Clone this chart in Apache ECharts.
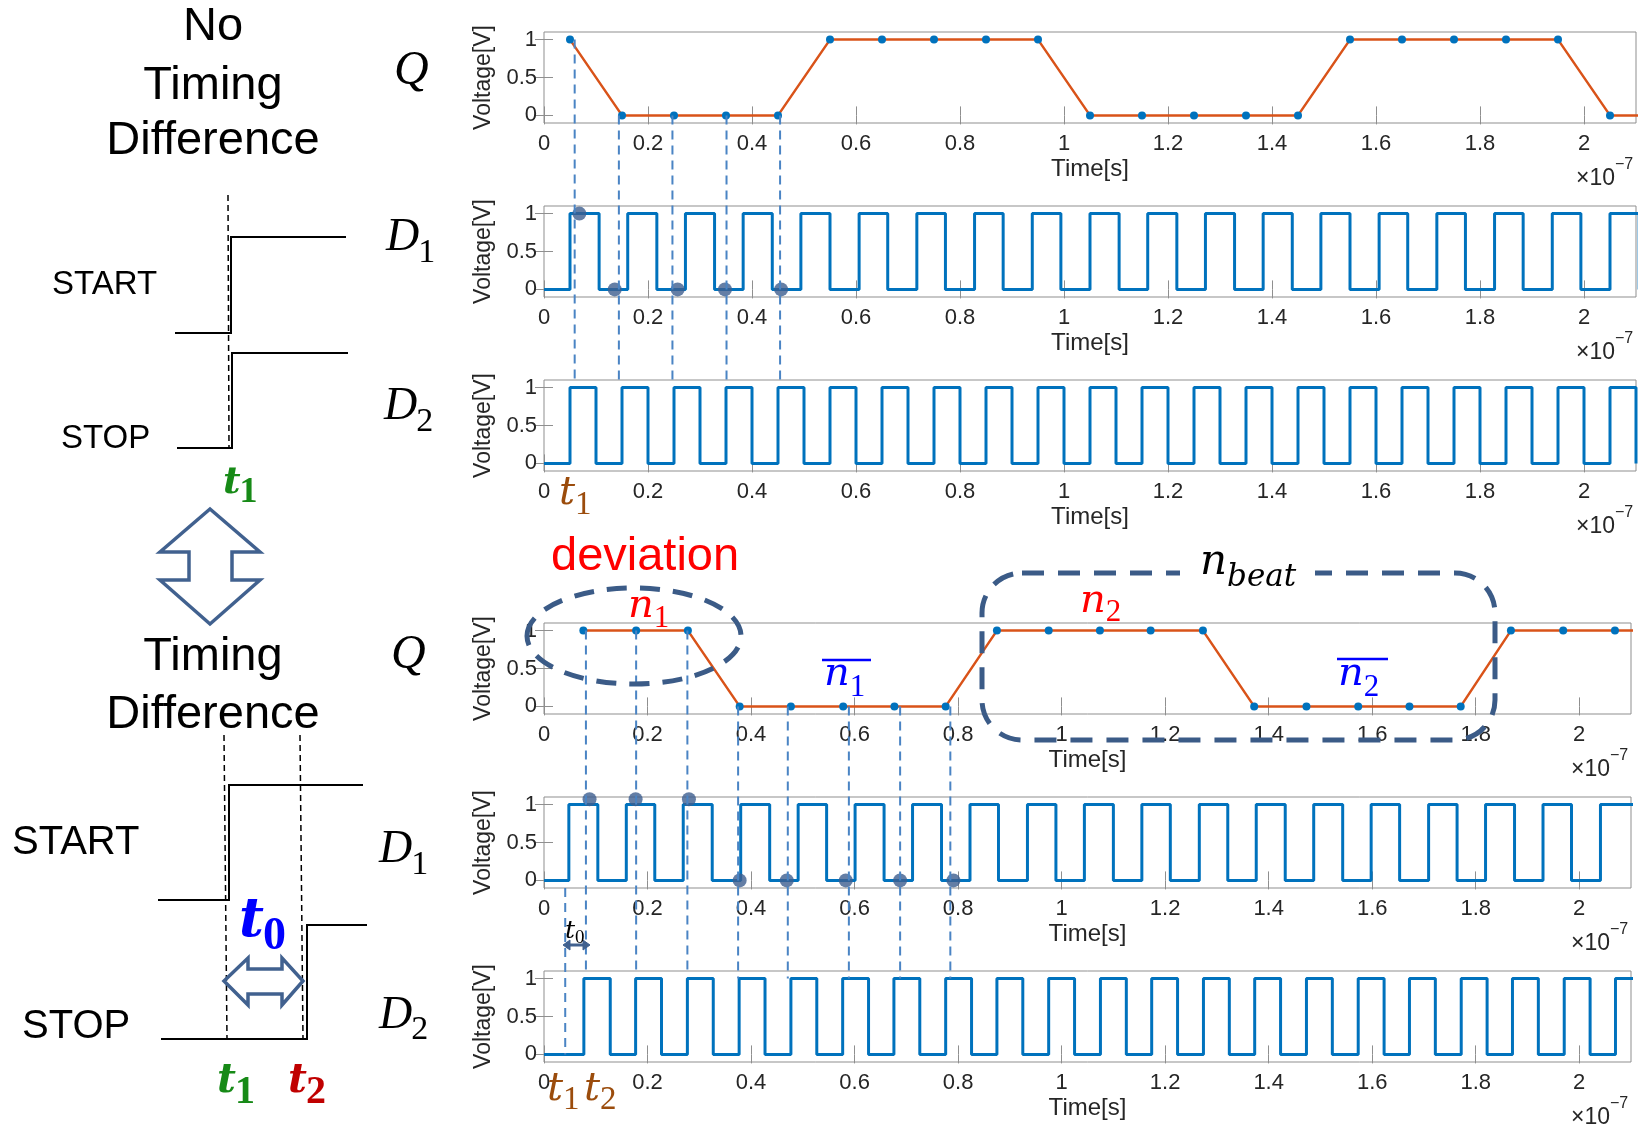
<!DOCTYPE html>
<html><head><meta charset="utf-8">
<script src="https://cdn.jsdelivr.net/npm/echarts@6/dist/echarts.min.js"></script>
<style>html,body{margin:0;padding:0;background:#fff}#c{width:1641px;height:1125px}</style>
</head><body><div id="c"></div>
<script>
// Time values are in units of 1e-7 s (axis shows x10^-7)
const xTickValues = [0, 0.2, 0.4, 0.6, 0.8, 1, 1.2, 1.4, 1.6, 1.8, 2];
const yTickValues = [0, 0.5, 1];

// ---- No timing difference ----
const qTopTime  = [0.05,0.15,0.25,0.35,0.45,0.55,0.65,0.75,0.85,0.95,1.05,1.15,1.25,1.35,1.45,1.55,1.65,1.75,1.85,1.95,2.05,2.15];
const qTopValue = [1,0,0,0,0,1,1,1,1,1,0,0,0,0,0,1,1,1,1,1,0,0];
const d1TopRise = [0.050,0.161,0.272,0.383,0.494,0.606,0.717,0.828,0.939,1.050,1.161,1.272,1.383,1.494,1.606,1.717,1.828,1.939,2.050];
const d1TopFall = [0.106,0.217,0.328,0.439,0.550,0.661,0.772,0.883,0.994,1.106,1.217,1.328,1.439,1.550,1.661,1.772,1.883,1.994,2.106];
const d2TopRise = [0.05,0.15,0.25,0.35,0.45,0.55,0.65,0.75,0.85,0.95,1.05,1.15,1.25,1.35,1.45,1.55,1.65,1.75,1.85,1.95,2.05];
const d2TopFall = [0.10,0.20,0.30,0.40,0.50,0.60,0.70,0.80,0.90,1.00,1.10,1.20,1.30,1.40,1.50,1.60,1.70,1.80,1.90,2.00,2.10];
const d1TopDotTime  = [0.068,0.136,0.257,0.348,0.456];
const d1TopDotValue = [1,0,0,0,0];
const topGuideX    = [0.059,0.144,0.247,0.351,0.454];
const topGuideFrom = [1,0,0,0,0];

// ---- Timing difference ----
const qBotTime  = [0.076,0.178,0.278,0.378,0.477,0.578,0.677,0.776,0.875,0.975,1.074,1.172,1.273,1.372,1.473,1.573,1.672,1.771,1.868,1.969,2.069,2.169];
const qBotValue = [1,1,1,0,0,0,0,0,1,1,1,1,1,0,0,0,0,0,1,1,1,1];
const d1BotRise = [0.048,0.159,0.269,0.380,0.491,0.601,0.712,0.823,0.934,1.044,1.155,1.266,1.376,1.487,1.598,1.709,1.819,1.930,2.041];
const d1BotFall = [0.104,0.214,0.325,0.436,0.546,0.657,0.768,0.878,0.989,1.100,1.210,1.321,1.432,1.543,1.653,1.764,1.875,1.985,2.110];
const d2BotRise = [0.077,0.177,0.277,0.377,0.477,0.577,0.676,0.776,0.875,0.975,1.075,1.174,1.274,1.373,1.473,1.573,1.672,1.772,1.871,1.971,2.070];
const d2BotFall = [0.128,0.227,0.327,0.427,0.527,0.627,0.726,0.826,0.925,1.025,1.125,1.224,1.324,1.423,1.523,1.623,1.722,1.822,1.921,2.021,2.120];
const d1BotDotTime  = [0.088,0.177,0.280,0.378,0.469,0.583,0.688,0.791];
const d1BotDotValue = [1.07,1.07,1.07,0,0,0,0,0];
const botGuideX    = [0.081,0.178,0.277,0.375,0.471,0.589,0.688,0.785];
const botGuideFrom = [1,1,1,0,0,0,0,0];
const botGuideTo   = [1.1,1.1,1.1,1,1,1,1,1];
const t1GuideX = 0.041;

// ---------- layout ----------
const gridTops   = [32, 206, 380, 623, 797, 971];
const gridWidths = [1092, 1092, 1092, 1087, 1087, 1087];
const GL = 544, GH = 91;
const FS = '"Liberation Sans", Arial, sans-serif';
const SERIF = '"Liberation Serif", "Times New Roman", serif';
const DSERIF = '"DejaVu Serif", "Liberation Serif", serif';
const TXT = '#262626';

function square(rise, fall) {
  const pts = [[0, 0]];
  for (let i = 0; i < rise.length; i++) {
    pts.push([rise[i], 0], [rise[i], 1]);
    if (fall[i] !== undefined) pts.push([fall[i], 1], [fall[i], 0]);
  }
  return pts;
}
const zip = (a, b) => a.map((v, i) => [v, b[i]]);

const grids = [], xAxes = [], yAxes = [];
gridTops.forEach((t, i) => {
  grids.push({left: GL, top: t, width: gridWidths[i], height: GH, show: true, borderColor: '#8f8f8f', borderWidth: 1, backgroundColor: 'rgba(0,0,0,0)'});
  const tick = {show: true, inside: true, length: 9, lineStyle: {color: '#8f8f8f', width: 1}};
  xAxes.push({type: 'value', gridIndex: i, min: 0, max: 2.1, position: 'bottom',
    axisLine: {show: false}, splitLine: {show: false},
    axisTick: Object.assign({customValues: xTickValues}, tick),
    axisLabel: {customValues: xTickValues, formatter: v => String(v), color: TXT, fontSize: 22, fontFamily: FS, margin: 10},
    name: 'Time[s]', nameLocation: 'middle', nameGap: 34, nameTextStyle: {color: TXT, fontSize: 24, fontFamily: FS}});
  xAxes.push({type: 'value', gridIndex: i, min: 0, max: 2.1, position: 'top',
    axisLine: {show: false}, splitLine: {show: false}, axisLabel: {show: false},
    axisTick: Object.assign({customValues: xTickValues}, tick)});
  yAxes.push({type: 'value', gridIndex: i, min: -0.1, max: 1.1, position: 'left',
    axisLine: {show: false}, splitLine: {show: false},
    axisTick: Object.assign({customValues: yTickValues}, tick),
    axisLabel: {customValues: yTickValues, formatter: v => String(v), color: TXT, fontSize: 22, fontFamily: FS, margin: 7},
    name: 'Voltage[V]', nameLocation: 'middle', nameGap: 41, nameTextStyle: {color: TXT, fontSize: 23, fontFamily: FS}});
  yAxes.push({type: 'value', gridIndex: i, min: -0.1, max: 1.1, position: 'right',
    axisLine: {show: false}, splitLine: {show: false}, axisLabel: {show: false},
    axisTick: Object.assign({customValues: yTickValues}, tick)});
});

const BLUE = '#0072BD', ORANGE = '#D95319', DOT = '#3D5E8E';
function qSeries(g, data) {
  return {type: 'line', xAxisIndex: 2*g, yAxisIndex: 2*g, data, clip: true, showAllSymbol: true,
    symbol: 'circle', symbolSize: 8, lineStyle: {color: ORANGE, width: 2.5}, itemStyle: {color: BLUE}, z: 3};
}
function sqSeries(g, data) {
  return {type: 'line', xAxisIndex: 2*g, yAxisIndex: 2*g, data, clip: true, symbol: 'none',
    lineStyle: {color: BLUE, width: 3}, z: 2};
}
function dotSeries(g, data) {
  return {type: 'scatter', xAxisIndex: 2*g, yAxisIndex: 2*g, data, clip: false, symbolSize: 14,
    itemStyle: {color: DOT}, z: 5};
}
const series = [
  qSeries(0, zip(qTopTime, qTopValue)),           // 0
  sqSeries(1, square(d1TopRise, d1TopFall)),      // 1
  dotSeries(1, zip(d1TopDotTime, d1TopDotValue)), // 2
  sqSeries(2, square(d2TopRise, d2TopFall)),      // 3
  qSeries(3, zip(qBotTime, qBotValue)),           // 4
  sqSeries(4, square(d1BotRise, d1BotFall)),      // 5
  dotSeries(4, zip(d1BotDotTime, d1BotDotValue)), // 6
  sqSeries(5, square(d2BotRise, d2BotFall))       // 7
];

const chart = echarts.init(document.getElementById('c'), null, {renderer: 'canvas'});
chart.setOption({animation: false, backgroundColor: '#fff', grid: grids, xAxis: xAxes, yAxis: yAxes, series});

// ---------- annotations ----------
const G = [];
const mctx = document.createElement('canvas').getContext('2d');
function fontOf(size, o) {
  return (o.it ? 'italic ' : '') + (o.bold ? 'bold ' : '') + size + 'px ' + (o.family || FS);
}
function txt(x, base, text, size, o) {
  o = o || {};
  const al = o.align || 'left';
  const font = fontOf(size, o);
  G.push({type: 'text', x: x, y: base - 0.34 * size, z: 100, silent: true,
    style: {text: text, fill: o.color || '#000', font: font,
      align: al, textAlign: al, verticalAlign: 'middle', textVerticalAlign: 'middle'}});
  mctx.font = font;
  return mctx.measureText(text).width;
}
// italic symbol with upright subscript placed right after it
function sym(x, base, main, sub, size, subSize, subDy, o) {
  o = o || {};
  const w = txt(x, base, main, size, {it: true, bold: o.bold, family: o.family || DSERIF, color: o.color});
  txt(x + w + (o.dx || 0), base + subDy, sub, subSize, {bold: o.bold, it: o.subIt, family: o.subFamily || SERIF, color: o.color});
}
function poly(points, stroke, w, dash) {
  G.push({type: 'polyline', z: 90, silent: true, shape: {points},
    style: {stroke: stroke, lineWidth: w, fill: null, lineDash: dash || null}});
}
function polygon(points, stroke, w, fill) {
  G.push({type: 'polygon', z: 90, silent: true, shape: {points},
    style: {stroke: stroke, lineWidth: w, fill: fill || 'none', lineJoin: 'miter'}});
}

const GREEN = '#178A17', RED2 = '#C00000', BROWN = '#9B4C0C', PURE_BLUE = '#0000FF', SLATE = '#41618F';

// left: top block
txt(213, 43, 'No', 47, {align: 'center'});
txt(213, 102, 'Timing', 47, {align: 'center'});
txt(213, 157, 'Difference', 47, {align: 'center'});
txt(394, 88, 'Q', 48, {it: true, family: SERIF});
sym(386, 254, 'D', '1', 46, 34, 11, {family: SERIF, dx: -1});
sym(384, 423, 'D', '2', 46, 34, 11, {family: SERIF, dx: -1});
txt(52, 296, 'START', 33);
txt(61, 450, 'STOP', 33);
poly([[175,333],[231,333],[231,237],[346,237]], '#000', 2);
poly([[177,448],[232,448],[232,353],[348,353]], '#000', 2);
poly([[228,195],[229,448]], '#000', 1.5, [6,4]);
sym(223, 496, 't', '1', 38, 36, 9, {bold: true, color: GREEN, dx: -1});
polygon([[210,509],[260,552],[232,552],[232,580],[260,580],[210,624],[160,580],[189,580],[189,552],[160,552]], SLATE, 3.5);

// left: bottom block
txt(213, 673, 'Timing', 47, {align: 'center'});
txt(213, 731, 'Difference', 47, {align: 'center'});
txt(391, 672, 'Q', 48, {it: true, family: SERIF});
sym(379, 866, 'D', '1', 46, 34, 11, {family: SERIF, dx: -1});
sym(379, 1032, 'D', '2', 46, 34, 10, {family: SERIF, dx: -1});
txt(12, 857, 'START', 40);
txt(22, 1041, 'STOP', 40);
poly([[158,900],[229,900],[229,785],[363,785]], '#000', 2);
poly([[161,1039],[307,1039],[307,925],[367,925]], '#000', 2);
poly([[224,735],[227,1039]], '#000', 1.5, [6,4]);
poly([[300,735],[303,1039]], '#000', 1.5, [6,4]);
sym(239, 940, 't', '0', 54, 46, 13, {bold: true, color: PURE_BLUE, dx: -1});
polygon([[224,981],[248,958],[248,969],[282,969],[282,958],[303,981],[282,1005],[282,994],[248,994],[248,1005]], SLATE, 3.5);
sym(217, 1095, 't', '1', 41, 40, 11, {bold: true, color: GREEN, dx: -1});
sym(288, 1095, 't', '2', 41, 40, 11, {bold: true, color: RED2, dx: -1});

// right-side annotations
sym(559, 507, 't', '1', 40, 33, 10, {color: BROWN});
sym(547, 1103, 't', '1', 40, 33, 9, {color: BROWN});
sym(584, 1103, 't', '2', 40, 33, 9, {color: BROWN});
sym(565, 940, 't', '0', 25, 19, 4, {});
poly([[569,945],[584,945]], SLATE, 3);
polygon([[563,945],[570,940],[570,950]], SLATE, 1, SLATE);
polygon([[590,945],[583,940],[583,950]], SLATE, 1, SLATE);

txt(551, 573, 'deviation', 47, {color: '#FF0000'});
const DASHC = '#3B5B87';
G.push({type: 'ellipse', z: 95, silent: true, shape: {cx: 634, cy: 636, rx: 107, ry: 48},
  style: {fill: 'none', stroke: DASHC, lineWidth: 5, lineDash: [20, 13]}});
sym(628, 620, 'n', '1', 40, 31, 9, {color: '#FF0000'});
sym(824, 688, 'n', '1', 40, 31, 10, {color: PURE_BLUE});
G.push({type: 'line', z: 96, silent: true, shape: {x1: 822, y1: 660, x2: 871, y2: 660}, style: {stroke: PURE_BLUE, lineWidth: 2.5}});

G.push({type: 'rect', z: 95, silent: true, shape: {x: 982, y: 573, width: 513, height: 167, r: 40},
  style: {fill: 'none', stroke: DASHC, lineWidth: 5, lineDash: [22, 14]}});
G.push({type: 'rect', z: 96, silent: true, shape: {x: 1180, y: 562, width: 135, height: 22}, style: {fill: '#fff'}});
sym(1200, 577, 'n', 'beat', 42, 31, 11, {subIt: true, subFamily: DSERIF});
sym(1080, 615, 'n', '2', 40, 31, 8, {color: '#FF0000'});
sym(1338, 688, 'n', '2', 40, 31, 10, {color: PURE_BLUE});
G.push({type: 'line', z: 96, silent: true, shape: {x1: 1337, y1: 659, x2: 1388, y2: 659}, style: {stroke: PURE_BLUE, lineWidth: 2.5}});

// x10^-7 labels
gridTops.forEach((t, i) => {
  const right = GL + gridWidths[i], bottom = t + GH;
  txt(right - 21, bottom + 63, '\u00d710', 23, {align: 'right', color: TXT});
  txt(right - 21, bottom + 47, '\u22127', 16, {color: TXT});
});

// guide lines through the data coordinates
const GUIDE = {stroke: '#4A84C4', lineWidth: 2, lineDash: [9, 6]};
function guide(a, b) {
  G.push({type: 'line', z: 80, silent: true, shape: {x1: a[0], y1: a[1], x2: b[0], y2: b[1]}, style: GUIDE});
}
topGuideX.forEach((x, i) => {
  const a = chart.convertToPixel({seriesIndex: 0}, [x, topGuideFrom[i]]);
  const b = chart.convertToPixel({seriesIndex: 3}, [x, 1.04]);
  guide(a, [a[0], b[1]]);
});
botGuideX.forEach((x, i) => {
  const a = chart.convertToPixel({seriesIndex: 4}, [x, botGuideFrom[i]]);
  const b = chart.convertToPixel({seriesIndex: 7}, [x, botGuideTo[i]]);
  guide(a, [a[0], b[1]]);
});
(function () {
  const a = chart.convertToPixel({seriesIndex: 5}, [t1GuideX, -0.1]);
  const b = chart.convertToPixel({seriesIndex: 7}, [t1GuideX, 0]);
  guide(a, [a[0], b[1]]);
})();

chart.setOption({graphic: {elements: G}});
</script></body></html>
